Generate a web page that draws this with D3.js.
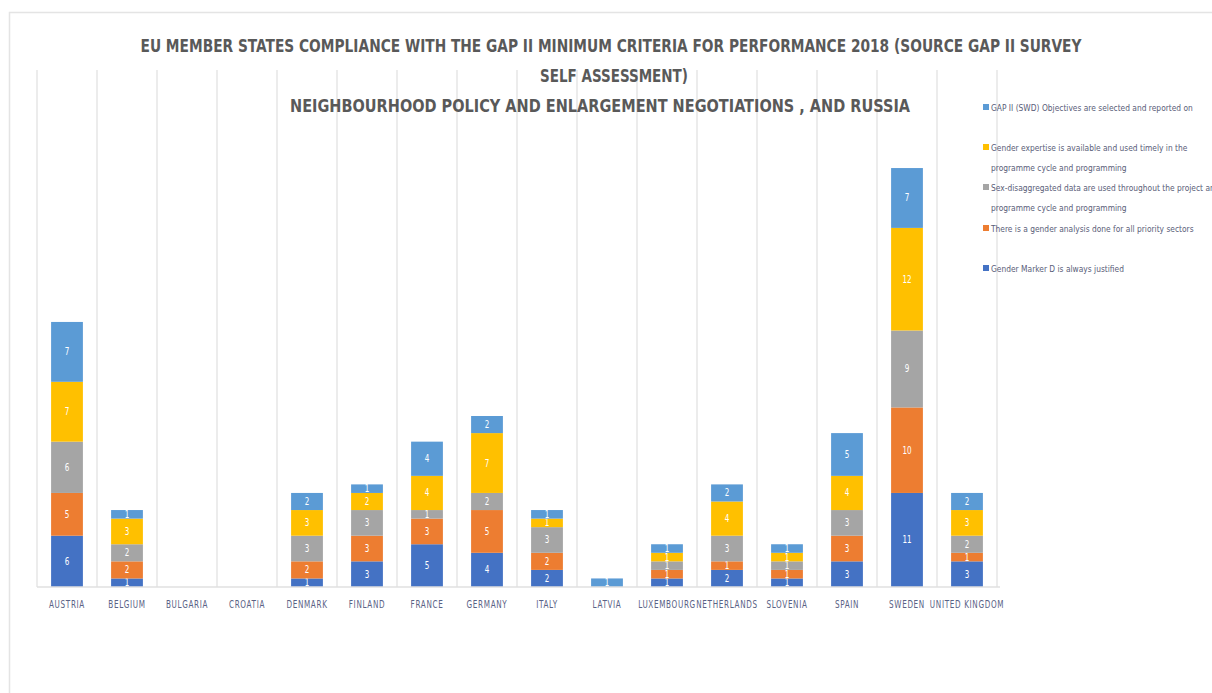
<!DOCTYPE html>
<html>
<head>
<meta charset="utf-8">
<script src="https://cdn.jsdelivr.net/npm/d3@7"></script>
<style>
  html, body { margin: 0; padding: 0; background: #fff; }
  svg { display: block; }
</style>
</head>
<body>
<svg id="chart" width="1212" height="693"></svg>
<script>
// ---- data ----
const categories = ["AUSTRIA","BELGIUM","BULGARIA","CROATIA","DENMARK","FINLAND","FRANCE","GERMANY","ITALY","LATVIA","LUXEMBOURG","NETHERLANDS","SLOVENIA","SPAIN","SWEDEN","UNITED KINGDOM"];
const genderMarker   = [6,1,0,0,1,3,5,4,2,0,1,2,1,3,11,3];
const genderAnalysis = [5,2,0,0,2,3,3,5,2,0,1,1,1,3,10,1];
const sexData        = [6,2,0,0,3,3,1,2,3,0,1,3,1,3,9,2];
const expertise      = [7,3,0,0,3,2,4,7,1,0,1,4,1,4,12,3];
const objectives     = [7,1,0,0,2,1,4,2,1,1,1,2,1,5,7,2];
const seriesValues = [genderMarker, genderAnalysis, sexData, expertise, objectives];
const seriesColors = ["#4472C4","#ED7D31","#A5A5A5","#FFC000","#5B9BD5"];
const titleLines = [
  "EU MEMBER STATES COMPLIANCE WITH THE GAP II MINIMUM CRITERIA FOR PERFORMANCE 2018 (SOURCE GAP II SURVEY",
  "SELF ASSESSMENT)",
  "NEIGHBOURHOOD POLICY AND ENLARGEMENT NEGOTIATIONS , AND RUSSIA"
];
const legendLines = [
  ["GAP II (SWD) Objectives are selected and reported on"],
  ["Gender expertise is available and used timely in the", "programme cycle and programming"],
  ["Sex-disaggregated data are used throughout the project and", "programme cycle and programming"],
  ["There is a gender analysis done for all priority sectors"],
  ["Gender Marker D is always justified"]
];

const svg = d3.select("#chart");
const font = "'Liberation Sans Narrow','DejaVu Sans Condensed','Roboto Condensed',sans-serif";

// outer border
svg.append("rect").attr("x",9.5).attr("y",12.5).attr("width",1220).attr("height",700)
  .attr("fill","none").attr("stroke","#e4e4e4").attr("stroke-width",1.5);

const x = d3.scaleBand().domain(categories).range([37, 997]).paddingInner(0.47).paddingOuter(0.235);
const y = d3.scaleLinear().domain([0, 60]).range([587, 74]);

// vertical category separators
const bounds = d3.range(categories.length + 1).map(i => 37 + i * x.step());
svg.append("g").selectAll("line").data(bounds).join("line")
  .attr("x1", d => d).attr("x2", d => d)
  .attr("y1", y(0)).attr("y2", 70)
  .attr("stroke", "#e6e6e6").attr("stroke-width", 1.5);

// stacked data
const rows = categories.map((c, i) => {
  const o = { cat: c };
  seriesValues.forEach((s, k) => o["s" + k] = s[i]);
  return o;
});
const keys = seriesValues.map((_, k) => "s" + k);
const stacked = d3.stack().keys(keys)(rows);

const g = svg.append("g");
stacked.forEach((layer, k) => {
  const lg = g.append("g");
  const nz = layer.filter(d => d[1] - d[0] > 0);
  lg.selectAll("rect").data(nz).join("rect")
    .attr("x", d => x(d.data.cat))
    .attr("width", x.bandwidth())
    .attr("y", d => y(d[1]))
    .attr("height", d => y(d[0]) - y(d[1]))
    .attr("fill", seriesColors[k]);
  lg.selectAll("text").data(nz).join("text")
    .attr("transform", d => `translate(${x(d.data.cat) + x.bandwidth() / 2},${(y(d[0]) + y(d[1])) / 2 + 3.5}) scale(0.8,1)`)
    .attr("text-anchor", "middle")
    .attr("font-family", font)
    .attr("font-size", 10)
    .attr("fill", "#ffffff")
    .text(d => d[1] - d[0]);
});

// baseline axis
const xAxis = d3.axisBottom(x).tickSize(0).tickPadding(14);
const ax = svg.append("g").attr("transform", `translate(0,${y(0)})`).call(xAxis);
ax.select(".domain").attr("stroke", "#e0e0e0").attr("stroke-width", 1.5).attr("d", "M37,0H1000");
const tickTexts = ax.selectAll("text")
  .attr("font-family", font).attr("font-size", 10).attr("fill", "#5a6285")
  .attr("letter-spacing", "0.8px");
// compress horizontally so "AUSTRIA" is ~36px wide
const aw = tickTexts.nodes()[0].getComputedTextLength();
const sxTick = Math.min(1, 36 / aw);
tickTexts.attr("transform", `scale(${sxTick},1)`);

// title
const tpos = [[611, 52], [614, 82], [600, 112]];
const twidth = [941, 148, 620];
titleLines.forEach((t, i) => {
  svg.append("text").attr("x", tpos[i][0]).attr("y", tpos[i][1])
    .attr("text-anchor", "middle")
    .attr("font-family", font).attr("font-size", 17).attr("font-weight", "bold")
    .attr("fill", "#595959")
    .attr("textLength", twidth[i]).attr("lengthAdjust", "spacingAndGlyphs")
    .text(t);
});

// legend (top to bottom: reverse series order)
const legendY = [108, 148, 188, 229, 269];
const legendSeries = [4, 3, 2, 1, 0];
const leg = svg.append("g");
let sxLeg = null;
legendLines.forEach((lines, i) => {
  const yy = legendY[i];
  leg.append("rect").attr("x", 983).attr("y", yy - 4).attr("width", 6).attr("height", 6)
    .attr("fill", seriesColors[legendSeries[i]]);
  lines.forEach((l, j) => {
    const t = leg.append("text")
      .attr("font-family", font).attr("font-size", 9.5).attr("fill", "#595d78")
      .text(l);
    if (sxLeg === null) sxLeg = Math.min(1, 202 / t.node().getComputedTextLength());
    t.attr("transform", `translate(991,${yy + 3 + j * 20}) scale(${sxLeg},1)`);
  });
});
</script>
</body>
</html>
